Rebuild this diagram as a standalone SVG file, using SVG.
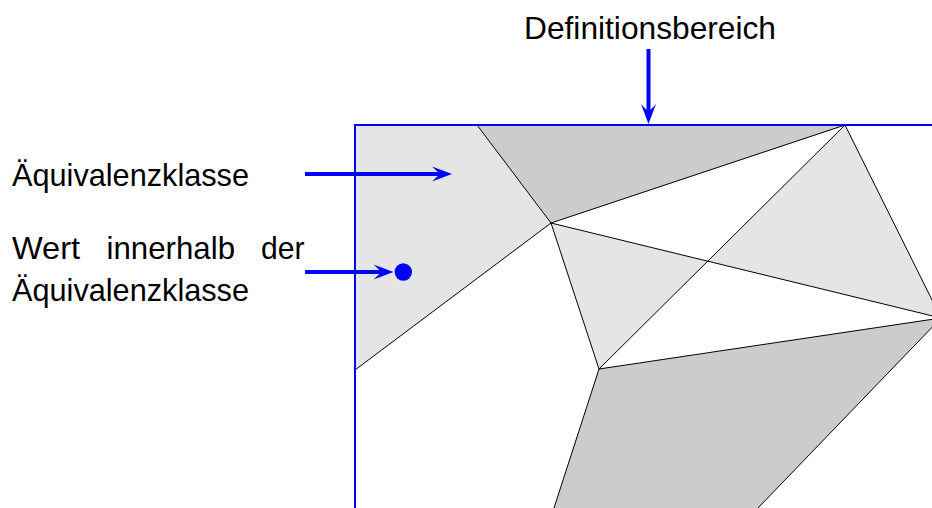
<svg xmlns="http://www.w3.org/2000/svg" width="932" height="508" viewBox="0 0 932 508">
  <defs>
    <style>
      .light { fill: #e5e5e5; stroke: none; }
      .dark { fill: #cccccc; stroke: none; }
      .edge { stroke: #000000; stroke-width: 1; fill: none; }
      .frame { stroke: #0000ff; stroke-width: 2; fill: none; }
      .arrow { stroke: #0000ff; stroke-width: 4; fill: none; marker-end: url(#head); }
      .lbl { font-family: "Liberation Sans", "DejaVu Sans", sans-serif; font-size: 32px; fill: #000000; }
    </style>
    <marker id="head" markerUnits="userSpaceOnUse" markerWidth="22" markerHeight="18" viewBox="-1 -9 22 18" refX="8" refY="0" orient="auto">
      <path d="M0,-7.5 L20,0 L0,7.5 L8,0 Z" fill="#0000ff"/>
    </marker>
  </defs>
  <rect width="932" height="508" fill="#ffffff"/>

  <g id="regions">
    <polygon class="light" points="355,125 477,125 551,223 355,370"/>
    <polygon class="light" points="551,223 707.7,261.2 599,369"/>
    <polygon class="light" points="845,125 707.7,261.2 941,318"/>
    <polygon class="dark" points="477,125 845,125 551,223"/>
    <polygon class="dark" points="599,369 941,318 758,508 554,508"/>
  </g>

  <g id="edges">
    <line class="edge" x1="477" y1="125" x2="551" y2="223"/>
    <line class="edge" x1="551" y1="223" x2="845" y2="125"/>
    <line class="edge" x1="551" y1="223" x2="355" y2="370"/>
    <line class="edge" x1="551" y1="223" x2="941" y2="318"/>
    <line class="edge" x1="845" y1="125" x2="599" y2="369"/>
    <line class="edge" x1="845" y1="125" x2="941" y2="318"/>
    <line class="edge" x1="599" y1="369" x2="941" y2="318"/>
    <line class="edge" x1="551" y1="223" x2="599" y2="369"/>
    <line class="edge" x1="599" y1="369" x2="554" y2="508"/>
    <line class="edge" x1="941" y1="318" x2="758" y2="508"/>
  </g>

  <g id="frame">
    <polyline class="frame" points="355,508 355,125 932,125"/>
  </g>

  <g id="label-definitionsbereich">
    <text class="lbl" x="524" y="39" textLength="252" lengthAdjust="spacingAndGlyphs">Definitionsbereich</text>
  </g>
  <g id="label-aequivalenzklasse">
    <text class="lbl" x="12" y="186" textLength="237" lengthAdjust="spacingAndGlyphs">Äquivalenzklasse</text>
  </g>
  <g id="label-wert">
    <text class="lbl" x="12" y="259" textLength="68" lengthAdjust="spacingAndGlyphs">Wert</text>
    <text class="lbl" x="106.5" y="259" textLength="128.5" lengthAdjust="spacingAndGlyphs">innerhalb</text>
    <text class="lbl" x="261" y="259" textLength="43.5" lengthAdjust="spacingAndGlyphs">der</text>
    <text class="lbl" x="12" y="301" textLength="237" lengthAdjust="spacingAndGlyphs">Äquivalenzklasse</text>
  </g>
  <g id="value-point">
    <circle cx="403.3" cy="272" r="8.7" fill="#0000ff"/>
  </g>

  <g id="connectors">
    <line class="arrow" x1="648.5" y1="49" x2="648.5" y2="112"/>
    <line class="arrow" x1="305" y1="174" x2="440" y2="174"/>
    <line class="arrow" x1="305" y1="272" x2="381.5" y2="272"/>
  </g>
</svg>
